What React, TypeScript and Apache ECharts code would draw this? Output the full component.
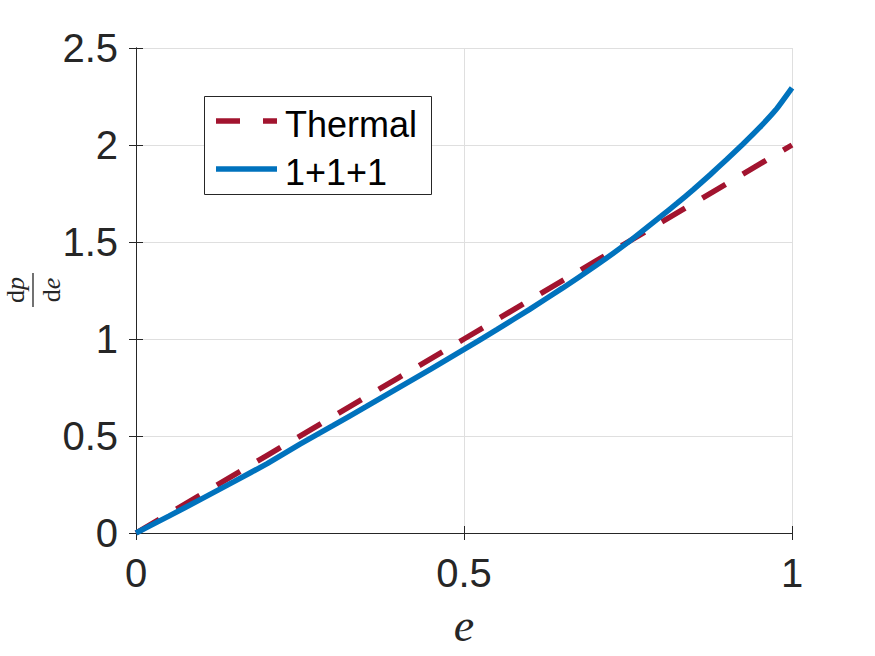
import React, { useEffect, useRef } from "react";
import * as echarts from "echarts";

const xTicks = [0, 0.5, 1];
const yTicks = [0, 0.5, 1, 1.5, 2, 2.5];

const thermalE = [0, 0.1, 0.2, 0.3, 0.4, 0.5, 0.6, 0.7, 0.8, 0.9, 1.0];
const thermalV = [0, 0.2, 0.4, 0.6, 0.8, 1.0, 1.2, 1.4, 1.6, 1.8, 2.0];

const modelE = [0, 0.05, 0.1, 0.15, 0.2, 0.25, 0.3, 0.35, 0.4, 0.45, 0.5, 0.55, 0.6, 0.65, 0.7, 0.75, 0.8, 0.825, 0.85, 0.875, 0.9, 0.925, 0.95, 0.975, 1.0];
const modelV = [0, 0.087, 0.176, 0.266, 0.358, 0.458, 0.553, 0.65, 0.748, 0.846, 0.946, 1.048, 1.153, 1.262, 1.376, 1.498, 1.632, 1.700, 1.771, 1.846, 1.924, 2.004, 2.088, 2.180, 2.295];

const seriesNames = ["Thermal", "1+1+1"];
const colors = ["#A2142F", "#0072BD"];

const AX = "#262626";
const SANS = "'Liberation Sans', Arial, Helvetica, sans-serif";
const SERIF = "'Liberation Serif', 'Times New Roman', serif";

export default function App() {
  const ref = useRef<HTMLDivElement>(null);
  useEffect(() => {
    if (!ref.current) return;
    const chart = echarts.init(ref.current, null, { renderer: "svg" });
    const tickAxisCommon = {
      type: "value" as const,
      axisLine: { show: true, lineStyle: { color: AX, width: 1 } },
      axisTick: { show: true, inside: true, length: 7, lineStyle: { color: AX, width: 1 } },
    };
    chart.setOption({
      animation: false,
      backgroundColor: "#ffffff",
      grid: { left: 136, top: 48, right: 83, bottom: 123, containLabel: false, outerBoundsMode: "none" },
      xAxis: [
        {
          ...tickAxisCommon,
          position: "bottom",
          min: xTicks[0],
          max: xTicks[xTicks.length - 1],
          interval: 0.5,
          axisLabel: { show: true, color: AX, fontSize: 40, fontFamily: SANS, margin: 20 },
          splitLine: { show: true, lineStyle: { color: "#dfdfdf", width: 1 } },
        },
        {
          ...tickAxisCommon,
          position: "top",
          min: xTicks[0],
          max: xTicks[xTicks.length - 1],
          interval: 0.5,
          axisLabel: { show: false },
          splitLine: { show: false },
        },
      ],
      yAxis: [
        {
          ...tickAxisCommon,
          position: "left",
          min: yTicks[0],
          max: yTicks[yTicks.length - 1],
          interval: 0.5,
          axisLabel: { show: true, color: AX, fontSize: 40, fontFamily: SANS, margin: 18 },
          splitLine: { show: true, lineStyle: { color: "#dfdfdf", width: 1 } },
        },
        {
          ...tickAxisCommon,
          position: "right",
          min: yTicks[0],
          max: yTicks[yTicks.length - 1],
          interval: 0.5,
          axisLabel: { show: false },
          splitLine: { show: false },
        },
      ],
      series: [
        {
          name: seriesNames[0],
          type: "line",
          data: thermalE.map((e, i) => [e, thermalV[i]]),
          showSymbol: false,
          symbol: "none",
          z: 2,
          lineStyle: { color: colors[0], width: 5.5, type: [27, 20], cap: "butt" },
        },
        {
          name: seriesNames[1],
          type: "line",
          data: modelE.map((e, i) => [e, modelV[i]]),
          showSymbol: false,
          symbol: "none",
          smooth: 0.15,
          z: 3,
          lineStyle: { color: colors[1], width: 5.5, cap: "butt" },
        },
      ],
      graphic: [
        {
          type: "rect",
          shape: { x: 204.5, y: 96.5, width: 227, height: 98 },
          style: { fill: "#ffffff", stroke: AX, lineWidth: 1 },
          z: 10,
        },
        {
          type: "line",
          shape: { x1: 216, y1: 121, x2: 277, y2: 121 },
          style: { stroke: colors[0], lineWidth: 5.5, lineDash: [24, 23], lineCap: "butt" },
          z: 11,
        },
        {
          type: "line",
          shape: { x1: 216, y1: 169, x2: 277, y2: 169 },
          style: { stroke: colors[1], lineWidth: 5.5, lineCap: "butt" },
          z: 11,
        },
        {
          type: "text",
          x: 285,
          y: 124,
          style: { text: seriesNames[0], fill: "#000000", font: `36px ${SANS}`, textAlign: "left", verticalAlign: "middle" },
          z: 11,
        },
        {
          type: "text",
          x: 285,
          y: 172,
          style: { text: seriesNames[1], fill: "#000000", font: `36px ${SANS}`, textAlign: "left", verticalAlign: "middle" },
          z: 11,
        },
        {
          type: "text",
          x: 464,
          y: 625,
          style: { text: "e", fill: AX, font: `italic 46px ${SERIF}`, align: "center", verticalAlign: "middle" },
        },
        {
          type: "group",
          x: 33,
          y: 290,
          rotation: Math.PI / 2,
          children: [
            {
              type: "text",
              x: 0,
              y: -18,
              style: {
                text: "{r|d}{i|p}",
                align: "center",
                verticalAlign: "middle",
                rich: {
                  r: { font: `26px ${SERIF}`, fill: AX, lineHeight: 24 },
                  i: { font: `italic 26px ${SERIF}`, fill: AX, lineHeight: 24 },
                },
              },
            },
            {
              type: "line",
              shape: { x1: -17, y1: 0, x2: 17, y2: 0 },
              style: { stroke: AX, lineWidth: 1.3 },
            },
            {
              type: "text",
              x: 0,
              y: 18,
              style: {
                text: "{r|d}{i|e}",
                align: "center",
                verticalAlign: "middle",
                rich: {
                  r: { font: `26px ${SERIF}`, fill: AX, lineHeight: 24 },
                  i: { font: `italic 26px ${SERIF}`, fill: AX, lineHeight: 24 },
                },
              },
            },
          ],
        },
      ],
    });
    return () => chart.dispose();
  }, []);
  return (
    <div
      ref={ref}
      style={{ position: "fixed", left: 0, top: 0, width: 875, height: 656, background: "#fff" }}
    />
  );
}
